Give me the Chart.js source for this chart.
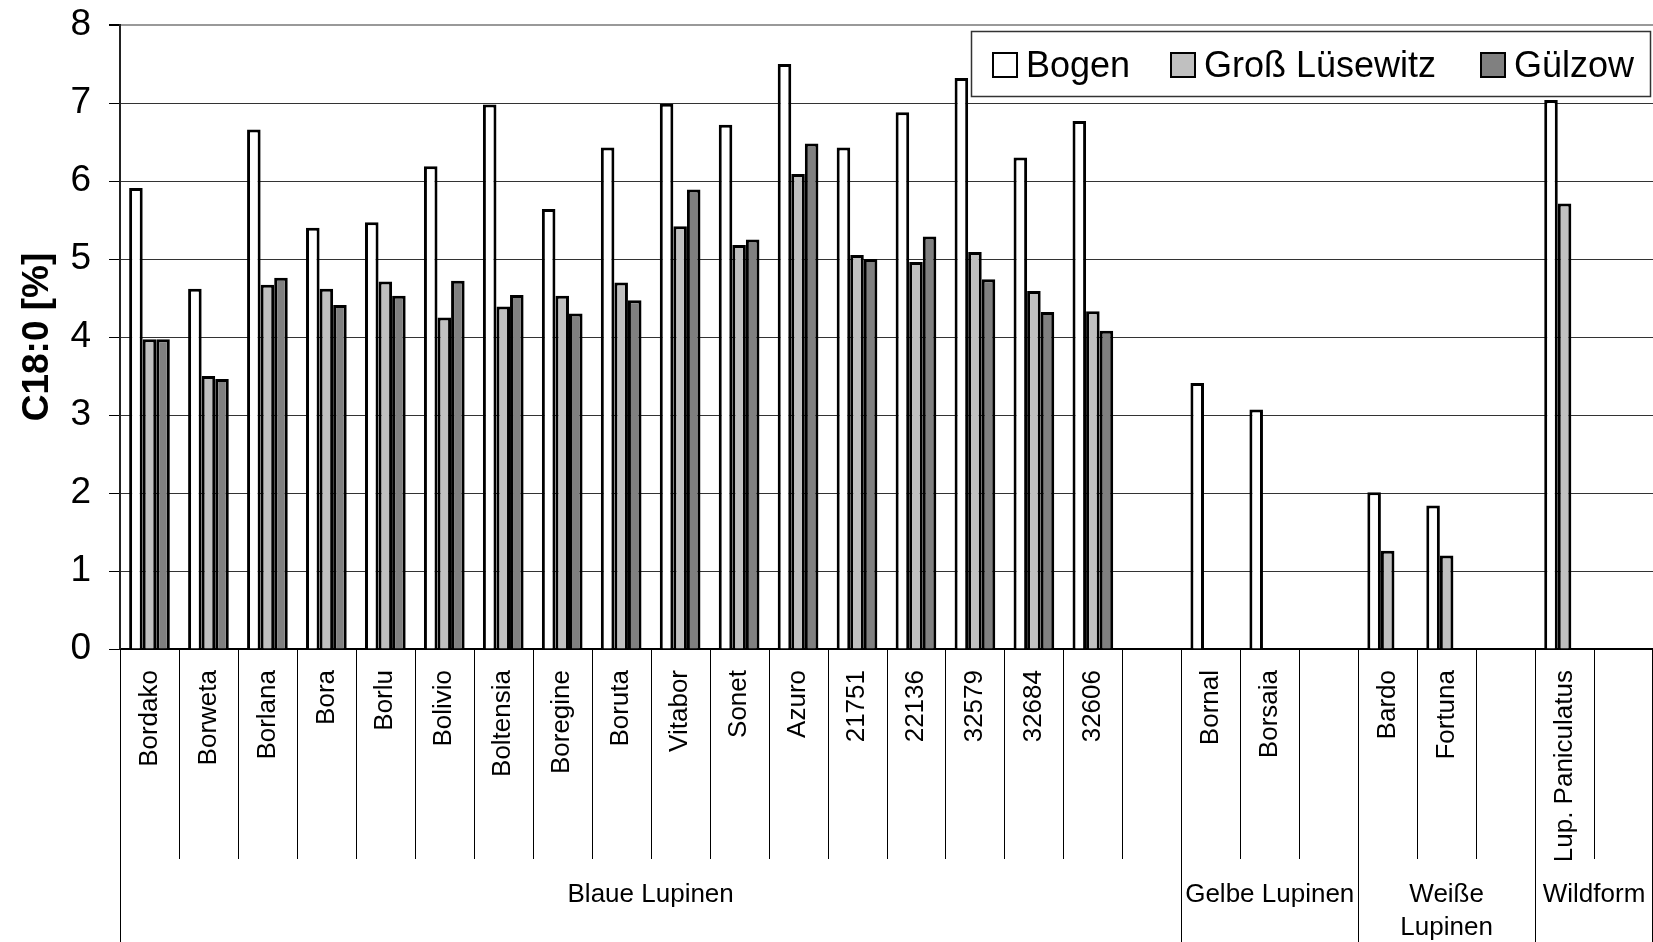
<!DOCTYPE html>
<html>
<head>
<meta charset="utf-8">
<script src="https://cdn.jsdelivr.net/npm/chart.js@4.4.1/dist/chart.umd.min.js"></script>
<style>
  html, body { margin: 0; padding: 0; background: #fff; }
  #wrap { width: 1653px; height: 942px; }
</style>
</head>
<body>
<div id="wrap"><canvas id="chart" width="1653" height="942"></canvas></div>
<script>
// categories (empty strings are the spacer slots between groups)
const categories = ['Bordako', 'Borweta', 'Borlana', 'Bora', 'Borlu', 'Bolivio', 'Boltensia', 'Boregine',
  'Boruta', 'Vitabor', 'Sonet', 'Azuro', '21751', '22136', '32579', '32684', '32606', '',
  'Bornal', 'Borsaia', '',
  'Bardo', 'Fortuna', '',
  'Lup. Paniculatus', ''];

const groupNames = ['Blaue Lupinen', 'Gelbe Lupinen', ['Weiße', 'Lupinen'], 'Wildform'];
const groupSizes = [18, 3, 3, 2];

const seriesNames = ['Bogen', 'Groß Lüsewitz', 'Gülzow'];

const bogen = [5.91, 4.62, 6.66, 5.40, 5.47, 6.19, 6.98, 5.64, 6.43, 6.99, 6.72, 7.50, 6.43, 6.88, 7.32, 6.30, 6.77, null,
  3.41, 3.07, null, 2.01, 1.84, null, 7.04, null];
const grossLuesewitz = [3.97, 3.50, 4.67, 4.62, 4.71, 4.25, 4.39, 4.53, 4.70, 5.42, 5.18, 6.09, 5.05, 4.96, 5.09, 4.59, 4.33, null,
  null, null, null, 1.26, 1.20, null, 5.71, null];
const guelzow = [3.97, 3.46, 4.76, 4.41, 4.53, 4.72, 4.54, 4.30, 4.47, 5.89, 5.25, 6.48, 5.00, 5.29, 4.74, 4.32, 4.08, null,
  null, null, null, null, null, null, null, null];

const yTicks = [0, 1, 2, 3, 4, 5, 6, 7, 8];

const colors = ['#ffffff', '#c0c0c0', '#808080'];
const FONT = "'Liberation Sans', Arial, sans-serif";

// separator lines under the x axis and the group names
const groupAxis = {
  id: 'groupAxis',
  afterDraw(chart) {
    const ctx = chart.ctx;
    const x = chart.scales.x;
    const area = chart.chartArea;
    const half = (x.getPixelForValue(1) - x.getPixelForValue(0)) / 2;
    const bounds = [0];
    groupSizes.forEach(n => bounds.push(bounds[bounds.length - 1] + n));

    ctx.save();
    ctx.strokeStyle = '#000';
    ctx.lineWidth = 1;
    for (let i = 0; i <= categories.length; i++) {
      const px = Math.min(Math.round(x.getPixelForValue(i) - half) + 0.5, chart.width - 0.5);
      const isGroup = bounds.includes(i);
      ctx.beginPath();
      ctx.moveTo(px, area.bottom);
      ctx.lineTo(px, isGroup ? chart.height : 859);
      ctx.stroke();
    }

    ctx.fillStyle = '#000';
    ctx.font = '26px ' + FONT;
    ctx.textAlign = 'center';
    ctx.textBaseline = 'middle';
    groupNames.forEach((name, g) => {
      const mid = (x.getPixelForValue(bounds[g]) + x.getPixelForValue(bounds[g + 1] - 1)) / 2;
      const lines = Array.isArray(name) ? name : [name];
      lines.forEach((t, k) => ctx.fillText(t, mid, 895 + k * 33));
    });
    ctx.restore();
  }
};

// boxed legend inside the plot area, top right
const boxLegend = {
  id: 'boxLegend',
  afterDraw(chart) {
    const ctx = chart.ctx;
    ctx.save();
    ctx.fillStyle = '#fff';
    ctx.fillRect(971, 31, 680, 66);
    ctx.strokeStyle = '#333';
    ctx.lineWidth = 1.5;
    ctx.strokeRect(971.5, 31.5, 679, 65);
    const markX = [993, 1171, 1481];
    ctx.font = '36px ' + FONT;
    ctx.textBaseline = 'middle';
    ctx.textAlign = 'left';
    chart.data.datasets.forEach((ds, i) => {
      ctx.fillStyle = ds.backgroundColor;
      ctx.fillRect(markX[i], 53, 24, 24);
      ctx.strokeStyle = '#000';
      ctx.lineWidth = 2;
      ctx.strokeRect(markX[i], 53, 24, 24);
      ctx.fillStyle = '#000';
      ctx.fillText(ds.label, markX[i] + 33, 67);
    });
    ctx.restore();
  }
};

new Chart(document.getElementById('chart').getContext('2d'), {
  type: 'bar',
  data: {
    labels: categories,
    datasets: [
      { label: seriesNames[0], data: bogen, backgroundColor: colors[0] },
      { label: seriesNames[1], data: grossLuesewitz, backgroundColor: colors[1] },
      { label: seriesNames[2], data: guelzow, backgroundColor: colors[2] }
    ].map(d => Object.assign(d, {
      borderColor: '#000',
      borderWidth: 3,
      categoryPercentage: 0.69,
      barPercentage: 1.0
    }))
  },
  options: {
    responsive: false,
    animation: false,
    devicePixelRatio: 1,
    layout: { padding: { top: 25, right: 0, left: 0, bottom: 0 } },
    plugins: {
      legend: { display: false },
      tooltip: { enabled: false }
    },
    scales: {
      x: {
        grid: { display: false, drawTicks: false },
        border: { display: true, color: '#000', width: 2 },
        ticks: {
          autoSkip: false,
          minRotation: 90,
          maxRotation: 90,
          padding: 21,
          color: '#000',
          font: { family: FONT, size: 26 }
        },
        afterFit(scale) {
          scale.height = 293;
          scale.paddingLeft = 0;
          scale.paddingRight = 0;
        }
      },
      y: {
        min: 0,
        max: 8,
        afterBuildTicks(scale) {
          scale.ticks = yTicks.map(v => ({ value: v }));
        },
        grid: {
          color: c => (c.tick && c.tick.value === 8) ? '#999' : '#333',
          lineWidth: c => (c.tick && c.tick.value === 8) ? 2 : 1,
          tickColor: '#000',
          tickLength: 11
        },
        border: { display: true, color: '#222', width: 2 },
        ticks: {
          padding: 18,
          color: '#000',
          font: { family: FONT, size: 37 }
        },
        title: {
          display: true,
          text: 'C18:0 [%]',
          color: '#000',
          padding: { top: 16, bottom: 0 },
          font: { family: FONT, size: 37, weight: 'bold' }
        },
        afterFit(scale) {
          scale.width = 120;
          scale.paddingTop = 0;
          scale.paddingBottom = 0;
        }
      }
    }
  },
  plugins: [groupAxis, boxLegend]
});
</script>
</body>
</html>
